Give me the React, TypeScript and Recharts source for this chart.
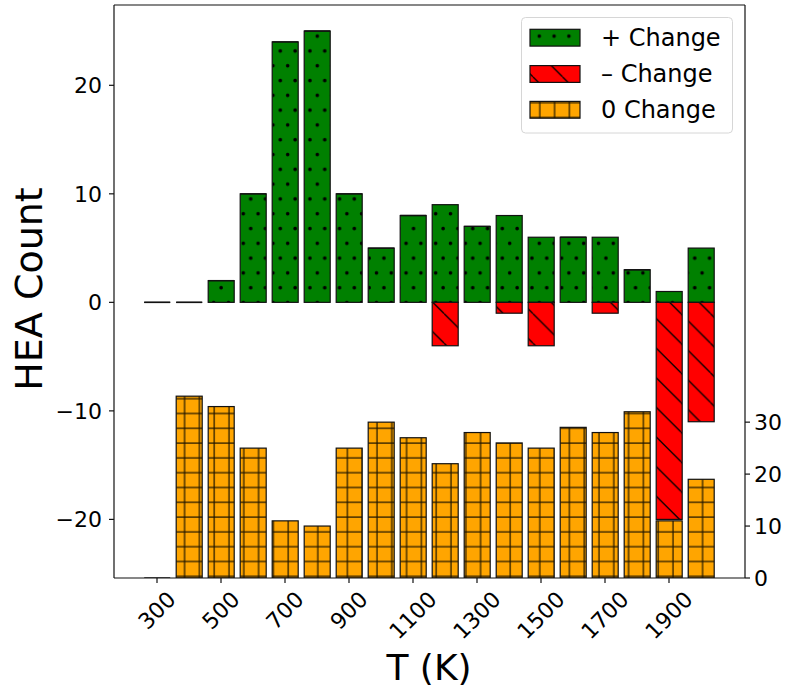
import { BarChart, Bar, XAxis, YAxis, Legend, ReferenceLine } from 'recharts';

const FONT = '"DejaVu Sans", sans-serif';

// Temperature bins (K)
const temps = [300, 400, 500, 600, 700, 800, 900, 1000, 1100, 1200, 1300, 1400, 1500, 1600, 1700, 1800, 1900, 2000];
// HEAs whose count went up / down / stayed the same in each bin
const plusChange = [0, 0, 2, 10, 24, 25, 10, 5, 8, 9, 7, 8, 6, 6, 6, 3, 1, 5];
const minusChange = [0, 0, 0, 0, 0, 0, 0, 0, 0, -4, 0, -1, -4, 0, -1, 0, -20, -11];
const zeroChange = [0, 35, 33, 25, 11, 10, 25, 30, 27, 22, 28, 26, 25, 29, 28, 32, 11, 19];

const leftTicks = [-20, -10, 0, 10, 20];
const rightTicks = [0, 10, 20, 30];
const leftDomain = [-25.4, 27.4];
const rightDomain = [0, 110.3];

const seriesNames = ['+ Change', '\u2013 Change', '0 Change'];
const seriesPatterns = ['hatchDots', 'hatchDiag', 'hatchGrid'];

const data = temps.map((t, i) => ({
  T: t,
  plus: plusChange[i],
  minus: minusChange[i],
  zero: zeroChange[i],
}));

const EDGE = '#111';
const TICK_FS = 22;
const P = 14.8; // hatch spacing

const Patterns = () => (
  <defs>
    <pattern id="hatchDots" patternUnits="userSpaceOnUse" width={P} height={2 * P}>
      <rect width={P} height={2 * P} fill="#008000" />
      <circle cx={6.5} cy={6.6} r={1.8} fill="#000" />
      <circle cx={13.9} cy={6.6 + P} r={1.8} fill="#000" />
      <circle cx={13.9 - P} cy={6.6 + P} r={1.8} fill="#000" />
    </pattern>
    <pattern id="hatchDiag" patternUnits="userSpaceOnUse" width={2 * P} height={2 * P}>
      <rect width={2 * P} height={2 * P} fill="#ff0000" />
      <line x1={0} y1={17.5} x2={2 * P} y2={17.5 + 2 * P} stroke="#000" strokeWidth={1.3} />
      <line x1={0} y1={17.5 - 2 * P} x2={2 * P} y2={17.5} stroke="#000" strokeWidth={1.3} />
    </pattern>
    <pattern id="hatchGrid" patternUnits="userSpaceOnUse" width={P} height={P}>
      <rect width={P} height={P} fill="#ffa500" />
      <line x1={0} y1={13.9} x2={P} y2={13.9} stroke="#1a1200" strokeWidth={1.2} />
      <line x1={7} y1={0} x2={7} y2={P} stroke="#1a1200" strokeWidth={1.2} />
    </pattern>
  </defs>
);

// bar with hatch fill; empty bins still show their edge as a flat line
const HatchBar = (props: any) => {
  const { x, width, pattern } = props;
  let y = props.y;
  let h = props.height;
  if (h < 0) {
    y += h;
    h = -h;
  }
  if (!(h > 0.5)) {
    return <line x1={x} x2={x + width} y1={y} y2={y} stroke={EDGE} strokeWidth={1.4} />;
  }
  return <rect x={x} y={y} width={width} height={h} fill={`url(#${pattern})`} stroke={EDGE} strokeWidth={1.2} />;
};

const TempTick = (props: any) => {
  const { x, y, payload } = props;
  const label = String(payload.value);
  const w = label.length * 0.636 * TICK_FS;
  const h = (w + 16) * 0.7071;
  const cy = y + 5 + h / 2;
  return (
    <g transform={`translate(${x},${cy}) rotate(-45)`}>
      <text textAnchor="middle" dominantBaseline="central" fontSize={TICK_FS} fontFamily={FONT} fill="#000">
        {label}
      </text>
    </g>
  );
};

const fmtLeft = (v: number) => (v < 0 ? '\u2212' + Math.abs(v) : String(v));

const LegendBox = () => {
  const rowTop = [29.3, 65.6, 101.4];
  return (
    <svg width={213} height={118} style={{ display: 'block', overflow: 'visible' }}>
      <g transform="translate(-521,-17)">
        <rect x={521.5} y={17.5} width={211} height={115.5} rx={4} fill="rgba(255,255,255,0.85)" stroke="#d6d6d6" strokeWidth={1} />
        {seriesNames.map((name, i) => (
          <g key={name}>
            <rect x={530} y={rowTop[i]} width={50} height={16.8} fill={`url(#${seriesPatterns[i]})`} stroke={EDGE} strokeWidth={1.2} />
            <text x={601} y={rowTop[i] + 16.8} fontSize={24} fontFamily={FONT} fill="#000">
              {name}
            </text>
          </g>
        ))}
      </g>
    </svg>
  );
};

export default function App() {
  return (
    <div style={{ position: 'absolute', left: 0, top: 0 }}>
      <BarChart
        width={785}
        height={688}
        data={data}
        stackOffset="sign"
        barCategoryGap="10%"
        margin={{ top: 5, right: 0, bottom: 0, left: 0 }}
      >
        <Patterns />
        <XAxis
          xAxisId="main"
          dataKey="T"
          interval={1}
          height={110}
          padding={{ left: 27, right: 28 }}
          tickSize={5}
          tickMargin={2}
          axisLine={{ stroke: EDGE, strokeWidth: 1.2 }}
          tickLine={{ stroke: EDGE, strokeWidth: 1.2 }}
          tick={<TempTick />}
        />
        <XAxis xAxisId="zero" dataKey="T" hide padding={{ left: 27, right: 28 }} />
        <YAxis
          yAxisId="left"
          width={114}
          domain={leftDomain}
          allowDataOverflow
          ticks={leftTicks}
          tickFormatter={fmtLeft}
          tickSize={5}
          tickMargin={7}
          axisLine={{ stroke: EDGE, strokeWidth: 1.2 }}
          tickLine={{ stroke: EDGE, strokeWidth: 1.2 }}
          tick={{ fill: '#000', fontSize: TICK_FS, fontFamily: FONT }}
        />
        <YAxis
          yAxisId="right"
          orientation="right"
          width={40}
          domain={rightDomain}
          allowDataOverflow
          ticks={rightTicks}
          tickSize={5}
          tickMargin={4}
          axisLine={{ stroke: EDGE, strokeWidth: 1.2 }}
          tickLine={{ stroke: EDGE, strokeWidth: 1.2 }}
          tick={{ fill: '#000', fontSize: TICK_FS, fontFamily: FONT }}
        />
        <ReferenceLine xAxisId="main" yAxisId="left" y={leftDomain[1]} stroke={EDGE} strokeWidth={1.2} />
        <Bar
          xAxisId="zero"
          yAxisId="right"
          dataKey="zero"
          name={seriesNames[2]}
          isAnimationActive={false}
          shape={(p: any) => <HatchBar {...p} pattern="hatchGrid" />}
        />
        <Bar
          xAxisId="main"
          yAxisId="left"
          dataKey="plus"
          stackId="chg"
          name={seriesNames[0]}
          isAnimationActive={false}
          shape={(p: any) => <HatchBar {...p} pattern="hatchDots" />}
        />
        <Bar
          xAxisId="main"
          yAxisId="left"
          dataKey="minus"
          stackId="chg"
          name={seriesNames[1]}
          isAnimationActive={false}
          shape={(p: any) => <HatchBar {...p} pattern="hatchDiag" />}
        />
        <Legend
          layout="vertical"
          align="center"
          verticalAlign="middle"
          content={() => <LegendBox />}
          wrapperStyle={{ left: 521, top: 17, width: 213, height: 118 }}
        />
        <text x={41.7} y={289} transform="rotate(-90 41.7 289)" textAnchor="middle" fontSize={38} fontFamily={FONT} fill="#000">
          HEA Count
        </text>
        <text x={429} y={680} textAnchor="middle" fontSize={36} fontFamily={FONT} fill="#000">
          T (K)
        </text>
      </BarChart>
    </div>
  );
}
